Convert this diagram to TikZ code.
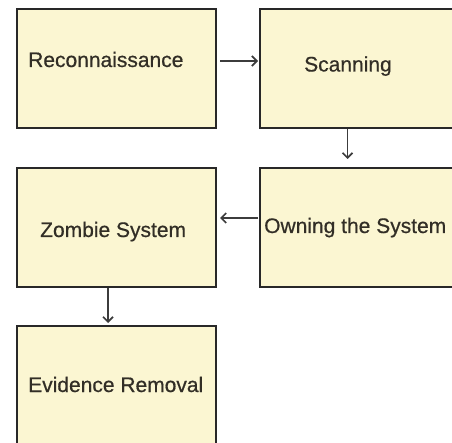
\documentclass[tikz,border=0pt]{standalone}
\usepackage{fontspec}
\setmainfont{Liberation Sans}[FakeBold=0.6]
\usetikzlibrary{arrows.meta}
\definecolor{boxfill}{RGB}{251,246,210}
\definecolor{boxline}{RGB}{40,40,40}
\definecolor{arrline}{RGB}{60,60,60}
\definecolor{txt}{RGB}{50,46,38}
\begin{document}
\begin{tikzpicture}[x=1pt,y=-1pt,
  stagebox/.style={draw=boxline,fill=boxfill,line width=2pt,minimum width=199pt,minimum height=119pt,inner sep=0pt,anchor=north west},
  stagetext/.style={anchor=base west,inner sep=0pt,text=txt,font=\fontsize{21}{25}\selectfont},
  arr/.style={draw=arrline,line width=1.7pt,-{Straight Barb[length=5pt,width=10pt,line width=1.7pt]}}]
\useasboundingbox (0,0) rectangle (452,443);
\clip (0,0) rectangle (452,443);
\fill[white] (0,0) rectangle (452,443);
\node[stagebox] (rec) at (16,8) {};
\node[stagebox] (scan) at (259,8) {};
\node[stagebox] (own) at (259,167) {};
\node[stagebox] (zom) at (16,167) {};
\node[stagebox] (evi) at (16,325) {};
\node[stagetext] (trec) at (28,67) {Reconnaissance};
\node[stagetext] (tscan) at (304,71.5) {Scanning};
\node[stagetext] (town) at (264,233) {Owning the System};
\node[stagetext] (tzom) at (40,237) {Zombie System};
\node[stagetext] (tevi) at (28,392) {Evidence Removal};
\draw[arr] ([xshift=3pt,yshift=7.5pt]rec.east) -- ([xshift=-1pt,yshift=7.5pt]scan.west);
\draw[arr] ([xshift=-12pt]scan.south) -- ([xshift=-12pt,yshift=8pt]own.north);
\draw[arr] ([xshift=-1pt,yshift=9.5pt]own.west) -- ([xshift=3pt,yshift=9.5pt]zom.east);
\draw[arr] ([xshift=-8.5pt]zom.south) -- ([xshift=-8.5pt,yshift=2pt]evi.north);
\end{tikzpicture}
\end{document}
